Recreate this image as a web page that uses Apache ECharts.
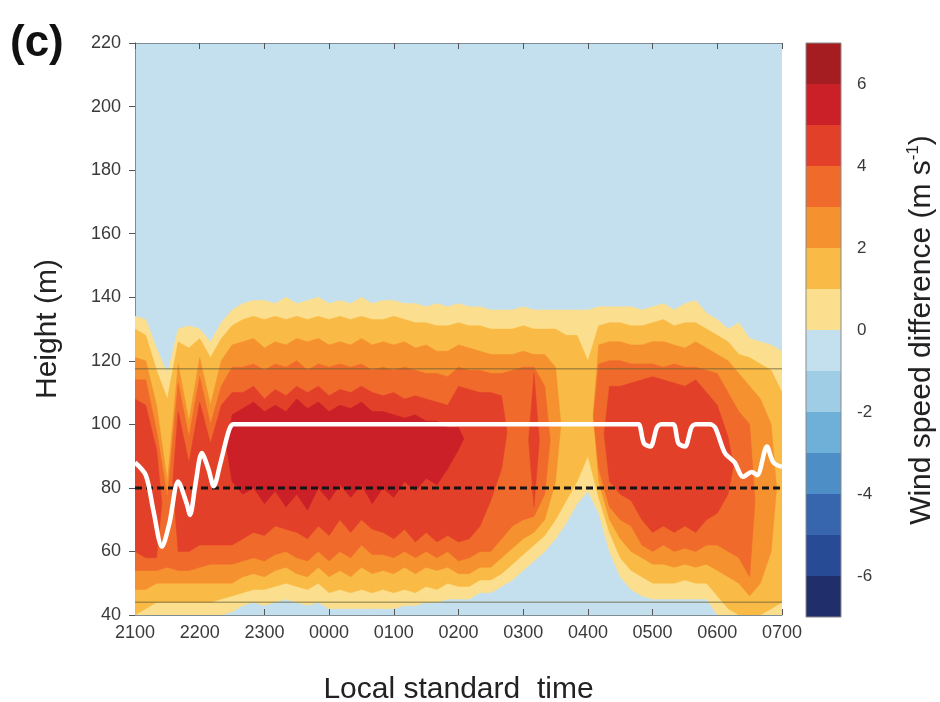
<!DOCTYPE html>
<html>
<head>
<meta charset="utf-8">
<script src="https://cdn.jsdelivr.net/npm/echarts/dist/echarts.min.js"></script>
<style>
  html, body { margin: 0; padding: 0; background: #ffffff; }
  #chart { width: 940px; height: 702px; }
</style>
</head>
<body>
<div id="chart"></div>
<script>
// Sampling times, minutes after 2100 LST
const minutes = [0,10,20,30,40,50,60,70,80,90,100,110,120,130,140,150,160,170,180,190,200,
  210,220,230,240,250,260,270,280,290,300,310,320,330,340,350,360,370,380,390,400,
  410,420,430,440,450,460,470,480,490,500,510,520,530,540,550,560,570,580,590,600];

const timeLabels = ['2100','2200','2300','0000','0100','0200','0300','0400','0500','0600','0700'];

// Lower / upper height (m) of each wind-speed-difference band (>= 0, 1, 2, 3, 4, 5 m/s)
const band0Low  = [40,40,40,40,40,40,40,40,40,41,43,44,43,44,45,44,43,44,42,42,42,42,42,42,42,43,43,44,44,45,45,
  45,47,47,49,51,54,57,60,64,69,75,79,72,60,52,48,46,45,45,45,45,45,45,40,40,40,40,40,40,40];
const band0High = [134,133,124,116,130,131,130,126,132,136,138,139,139,138,140,138,139,140,138,139,138,140,138,139,139,138,138,137,138,137,138,
  137,137,136,136,136,137,136,136,136,136,136,136,137,137,137,137,136,137,138,136,138,139,135,133,130,132,127,126,125,123];
const band1Low  = [40,42,44,44,44,44,44,44,45,46,47,48,48,49,50,49,48,50,47,48,47,48,47,48,47,48,47,49,48,50,49,
  49,51,51,53,56,59,62,65,70,76,82,90,77,66,58,54,52,50,50,50,51,50,50,46,42,40,40,40,42,44];
const band1High = [130,128,117,108,126,124,127,121,127,131,133,134,133,134,133,134,133,134,133,134,133,134,133,133,134,133,132,132,131,131,132,
  131,131,130,130,130,131,130,130,130,128,128,120,131,132,132,131,131,132,133,131,132,132,130,128,126,122,121,119,117,110];
const band2Low  = [48,48,50,50,50,50,50,50,50,50,52,53,52,54,55,53,52,55,52,54,52,55,53,54,53,55,53,55,54,55,53,
  53,55,55,58,61,64,66,70,82,null,null,null,82,70,64,60,58,56,56,55,56,55,56,54,52,50,46,50,60,null];
const band2High = [121,120,106,82,119,101,121,106,120,125,126,127,124,126,125,127,126,127,125,126,125,127,125,126,125,126,124,125,123,123,125,
  124,123,122,122,122,123,122,122,118,null,null,null,125,126,126,125,125,126,126,125,124,126,124,122,120,116,112,108,100,null];
const band3Low  = [54,54,54,55,54,54,55,56,56,56,57,58,57,59,60,58,57,60,57,60,58,62,59,59,58,60,58,60,58,60,57,
  58,60,60,64,68,70,71,78,null,null,null,null,86,74,70,68,62,60,62,60,61,60,62,62,60,58,52,null,null,null];
const band3High = [114,114,98,77,113,96,115,100,112,118,118,119,117,119,118,120,117,119,118,119,118,119,117,118,117,118,117,116,116,115,118,
  117,117,116,116,117,118,118,112,null,null,null,null,119,120,120,119,119,119,118,119,118,118,117,116,110,104,100,null,null,null];
const band4Low  = [60,58,58,null,60,60,62,62,62,62,64,66,65,68,67,66,64,68,65,70,66,70,67,66,64,67,63,66,63,65,63,
  64,68,76,86,null,null,74,null,null,null,null,null,null,82,78,76,70,66,68,66,68,66,70,72,78,null,null,null,null,null];
const band4High = [108,106,92,null,104,88,107,94,106,110,110,112,108,111,109,112,110,112,109,111,110,112,110,109,110,108,109,108,107,106,112,
  111,110,110,109,null,null,116,null,null,null,null,null,null,112,112,113,114,115,114,113,112,114,110,106,96,null,null,null,null,null];
const band5Low  = [null,null,null,null,null,null,null,null,null,82,78,80,75,79,74,78,73,80,76,81,77,81,75,80,77,82,79,83,81,86,92,
  null,null,null,null,null,null,null,null,null,null,null,null,null,null,null,null,null,null,null,null,null,null,null,null,null,null,null,null,null,null];
const band5High = [null,null,null,null,null,null,null,null,null,103,105,107,104,106,104,108,105,107,104,106,105,107,104,104,103,102,103,101,101,99,99,
  null,null,null,null,null,null,null,null,null,null,null,null,null,null,null,null,null,null,null,null,null,null,null,null,null,null,null,null,null,null];

const bandLow  = [band0Low, band1Low, band2Low, band3Low, band4Low, band5Low];
const bandHigh = [band0High, band1High, band2High, band3High, band4High, band5High];
const bandColors = ['#fbdf8e', '#f9bb45', '#f5912f', '#f06a2b', '#e3402a', '#cb2027'];

// Rotor-layer height (white curve)
const rotorMinutes = [0,10,17,25,32,40,48,51,56,62,68,73,79,87,91,96,
  462,467,472,478,484,488,499,504,510,516,520,533,538,547,556,564,572,577,586,592,600];
const rotorHeight = [88,84,73,61.5,69,82,75,71.5,81,91,86,80.5,87.5,98,100,100,
  100,100,94,93,99,100,100,94,93,99,100,100,99,91,88,83.5,85,84,93,88,86.6];

const hubHeight = 80;
const rotorTop = 117.5;
const rotorBottom = 44;

// Colour scale: bin edges and colours
const scaleLow   = [-7,-6,-5,-4,-3,-2,-1,0,1,2,3,4,5,6];
const scaleHigh  = [-6,-5,-4,-3,-2,-1,0,1,2,3,4,5,6,7];
const scaleColors = ['#202f6c','#274b94','#3866ae','#4d8ec6','#6fb0d8','#a0cde6','#c4e0ee',
  '#fbdf8e','#f9bb45','#f5912f','#f06a2b','#e3402a','#cb2027','#a51d21'];

const FONT = '"Liberation Sans", Arial, Helvetica, sans-serif';

function renderBand(params, api) {
  const lvl = api.value(0);
  const lo = bandLow[lvl], hi = bandHigh[lvl];
  const n = minutes.length;
  const children = [];
  let k = 0;
  while (k < n) {
    if (lo[k] == null) { k++; continue; }
    const a = k;
    while (k < n && lo[k] != null) k++;
    const b = k - 1;
    const top = [], bot = [];
    if (a > 0) top.push(api.coord([(minutes[a - 1] + minutes[a]) / 2, (lo[a] + hi[a]) / 2]));
    for (let i = a; i <= b; i++) {
      top.push(api.coord([minutes[i], hi[i]]));
      bot.push(api.coord([minutes[i], lo[i]]));
    }
    if (b < n - 1) top.push(api.coord([(minutes[b] + minutes[b + 1]) / 2, (lo[b] + hi[b]) / 2]));
    children.push({
      type: 'polygon',
      shape: { points: top.concat(bot.reverse()) },
      style: { fill: bandColors[lvl], stroke: bandColors[lvl], lineWidth: 0.5 }
    });
  }
  return { type: 'group', children: children };
}

function renderScaleBin(params, api) {
  const p0 = api.coord([0, api.value(0)]);
  const p1 = api.coord([1, api.value(1)]);
  return {
    type: 'rect',
    shape: { x: p0[0], y: p1[1], width: p1[0] - p0[0], height: p0[1] - p1[1] },
    style: { fill: scaleColors[api.value(2)] }
  };
}

function renderScaleFrame(params, api) {
  const p0 = api.coord([0, api.value(0)]);
  const p1 = api.coord([1, api.value(1)]);
  return {
    type: 'rect',
    shape: { x: p0[0], y: p1[1], width: p1[0] - p0[0], height: p0[1] - p1[1] },
    style: { fill: 'none', stroke: '#8a8a8a', lineWidth: 1 }
  };
}

const axisGray = '#7f8c92';
const labelColor = '#3a3a3a';

const chart = echarts.init(document.getElementById('chart'), null, { renderer: 'canvas' });
chart.setOption({
  animation: false,
  backgroundColor: '#ffffff',
  graphic: [{
    type: 'text', left: 10, top: 22,
    style: { text: '(c)', font: 'bold 44px ' + FONT, fill: '#111' }
  }],
  grid: [
    { left: 135, right: 158, top: 43, bottom: 87, show: true, backgroundColor: '#c4e0ee', borderWidth: 0,
      containLabel: false, outerBoundsMode: 'none' },
    { left: 806, right: 99, top: 43, bottom: 85, show: false, containLabel: false, outerBoundsMode: 'none' }
  ],
  xAxis: [
    {
      gridIndex: 0, type: 'value', min: 0, max: 600, interval: 60, position: 'bottom',
      axisLine: { show: true, lineStyle: { color: axisGray, width: 1 } },
      axisTick: { show: true, inside: true, length: 6, lineStyle: { color: '#555' } },
      axisLabel: { formatter: v => timeLabels[Math.round(v / 60)], fontSize: 18, color: labelColor, margin: 9, fontFamily: FONT },
      splitLine: { show: false },
      name: 'Local standard  time', nameLocation: 'middle', nameGap: 60,
      nameTextStyle: { fontSize: 30, color: '#222', fontFamily: FONT }
    },
    {
      gridIndex: 0, type: 'value', min: 0, max: 600, interval: 60, position: 'top',
      axisLine: { show: true, lineStyle: { color: axisGray, width: 1 } },
      axisTick: { show: true, inside: true, length: 6, lineStyle: { color: '#555' } },
      axisLabel: { show: false }, splitLine: { show: false }
    },
    { gridIndex: 1, type: 'value', min: 0, max: 1, show: false }
  ],
  yAxis: [
    {
      gridIndex: 0, type: 'value', min: 40, max: 220, interval: 20, position: 'left',
      axisLine: { show: true, lineStyle: { color: axisGray, width: 1 } },
      axisTick: { show: true, inside: false, length: 5, lineStyle: { color: '#555' } },
      axisLabel: { fontSize: 18, color: labelColor, margin: 14, fontFamily: FONT },
      splitLine: { show: false },
      name: 'Height (m)', nameLocation: 'middle', nameGap: 72,
      nameTextStyle: { fontSize: 30, color: '#222', fontFamily: FONT }
    },
    {
      gridIndex: 0, type: 'value', min: 40, max: 220, interval: 20, position: 'right',
      axisLine: { show: true, lineStyle: { color: axisGray, width: 1 } },
      axisTick: { show: true, inside: true, length: 6, lineStyle: { color: '#555' } },
      axisLabel: { show: false }, splitLine: { show: false }
    },
    {
      gridIndex: 1, type: 'value', min: -7, max: 7, interval: 1, position: 'right',
      axisLine: { show: false }, axisTick: { show: false }, splitLine: { show: false },
      axisLabel: { formatter: v => (v % 2 === 0 ? String(v) : ''), fontSize: 17, color: labelColor, margin: 16, fontFamily: FONT },
      name: '{t|Wind speed difference (m s}{s|-1}{t|)}',
      nameLocation: 'middle', nameRotate: 90, nameGap: 64,
      nameTextStyle: {
        rich: {
          t: { fontSize: 30, color: '#222', fontFamily: FONT, lineHeight: 34 },
          s: { fontSize: 17, color: '#222', fontFamily: FONT, verticalAlign: 'top', lineHeight: 34 }
        }
      }
    }
  ],
  series: [
    {
      type: 'custom', name: 'bands', xAxisIndex: 0, yAxisIndex: 0, clip: true, z: 1,
      renderItem: renderBand,
      data: bandColors.map((c, i) => [i, 100])
    },
    {
      type: 'line', name: 'rotor top', xAxisIndex: 0, yAxisIndex: 0, symbol: 'none', z: 3,
      lineStyle: { color: 'rgba(105,95,55,0.55)', width: 1.5 },
      data: [[0, rotorTop], [600, rotorTop]]
    },
    {
      type: 'line', name: 'rotor bottom', xAxisIndex: 0, yAxisIndex: 0, symbol: 'none', z: 3,
      lineStyle: { color: 'rgba(105,95,55,0.55)', width: 1.5 },
      data: [[0, rotorBottom], [600, rotorBottom]]
    },
    {
      type: 'line', name: 'hub height', xAxisIndex: 0, yAxisIndex: 0, symbol: 'none', z: 4,
      lineStyle: { color: '#151515', width: 3, type: [7, 4] },
      data: [[0, hubHeight], [600, hubHeight]]
    },
    {
      type: 'line', name: 'rotor layer', xAxisIndex: 0, yAxisIndex: 0, symbol: 'none', z: 5,
      smooth: 0.3, clip: true,
      lineStyle: { color: '#ffffff', width: 4.5 },
      data: rotorMinutes.map((m, i) => [m, rotorHeight[i]])
    },
    {
      type: 'custom', name: 'scale', xAxisIndex: 2, yAxisIndex: 2, z: 1,
      renderItem: renderScaleBin,
      encode: { y: [0, 1] },
      data: scaleLow.map((v, i) => [v, scaleHigh[i], i])
    },
    {
      type: 'custom', name: 'scale frame', xAxisIndex: 2, yAxisIndex: 2, z: 2,
      renderItem: renderScaleFrame,
      encode: { y: [0, 1] },
      data: [[scaleLow[0], scaleHigh[scaleHigh.length - 1]]]
    }
  ]
});
</script>
</body>
</html>
